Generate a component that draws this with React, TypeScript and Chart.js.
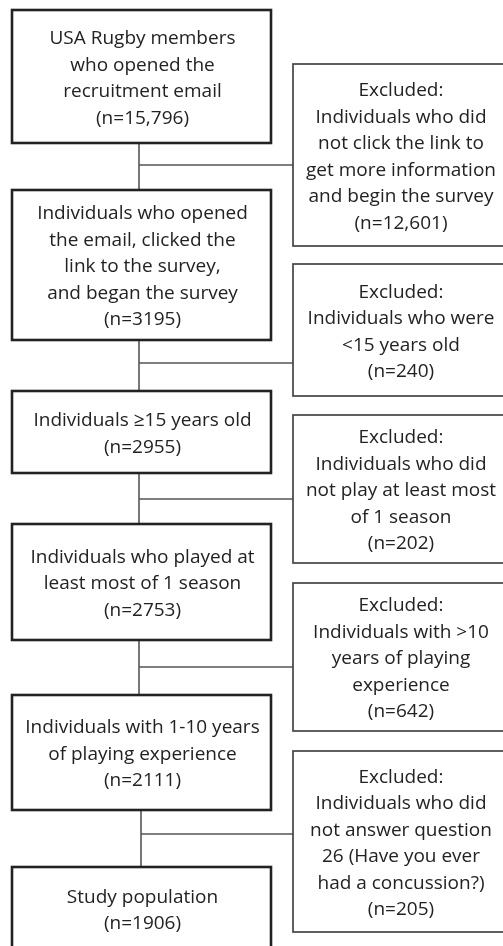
import React, { useEffect, useRef } from "react";
import { Chart, registerables } from "chart.js";

Chart.register(...registerables);

// ---- data ----
const stageLabels: string[][] = [
  ["USA Rugby members", "who opened the", "recruitment email"],
  ["Individuals who opened", "the email, clicked the", "link to the survey,", "and began the survey"],
  ["Individuals \u226515 years old"],
  ["Individuals who played at", "least most of 1 season"],
  ["Individuals with 1-10 years", "of playing experience"],
  ["Study population"],
];
const stageCounts: string[] = ["15,796", "3195", "2955", "2753", "2111", "1906"];

const excludedLabels: string[][] = [
  ["Individuals who did", "not click the link to", "get more information", "and begin the survey"],
  ["Individuals who were", "<15 years old"],
  ["Individuals who did", "not play at least most", "of 1 season"],
  ["Individuals with >10", "years of playing", "experience"],
  ["Individuals who did", "not answer question", "26 (Have you ever", "had a concussion?)"],
];
const excludedCounts: string[] = ["12,601", "240", "202", "642", "205"];

// ---- layout (in scale units) ----
const mainX = [12, 271];
const mainY: number[][] = [
  [10, 143], [190, 340], [391, 473], [524, 640], [695, 810], [867, 950],
];
const exclX = [293, 506];
const exclY: number[][] = [
  [64, 246], [264, 396], [415, 563], [583, 731], [751, 932],
];
const connY = [165, 363, 499, 667, 834];
const connX = [139, 139, 139, 139, 141];

const FONT_FAMILY = "'Open Sans', sans-serif";
const FONT_SIZE = 19;
const LINE_H = 26.5;
const TEXT_SHIFT = 2;

const flowPlugin = {
  id: "flow",
  afterDraw(chart: any) {
    const ctx = chart.ctx as CanvasRenderingContext2D;
    const xs = chart.scales.x;
    const ys = chart.scales.y;
    const px = (v: number) => xs.getPixelForValue(v);
    const py = (v: number) => ys.getPixelForValue(v);
    ctx.save();

    const drawBox = (x0: number, x1: number, y0: number, y1: number, lw: number, color: string) => {
      ctx.lineWidth = lw;
      ctx.strokeStyle = color;
      ctx.strokeRect(px(x0), py(y0), px(x1) - px(x0), py(y1) - py(y0));
    };
    const drawText = (lines: string[], cx: number, y0: number, y1: number) => {
      ctx.fillStyle = "#222222";
      ctx.font = `${FONT_SIZE}px ${FONT_FAMILY}`;
      ctx.textAlign = "center";
      ctx.textBaseline = "middle";
      const mid = (py(y0) + py(y1)) / 2 + TEXT_SHIFT;
      const start = mid - ((lines.length - 1) * LINE_H) / 2;
      lines.forEach((l, i) => ctx.fillText(l, px(cx), start + i * LINE_H));
    };

    // connectors
    ctx.lineWidth = 1.6;
    ctx.strokeStyle = "#555555";
    for (let i = 0; i < connY.length; i++) {
      ctx.beginPath();
      ctx.moveTo(px(connX[i]), py(mainY[i][1]));
      ctx.lineTo(px(connX[i]), py(mainY[i + 1][0]));
      ctx.moveTo(px(connX[i]), py(connY[i]));
      ctx.lineTo(px(exclX[0]), py(connY[i]));
      ctx.stroke();
    }

    // main boxes
    stageLabels.forEach((lab, i) => {
      drawBox(mainX[0], mainX[1], mainY[i][0], mainY[i][1], 2.6, "#222222");
      drawText([...lab, `(n=${stageCounts[i]})`], (mainX[0] + mainX[1]) / 2 + 1, mainY[i][0], mainY[i][1]);
    });

    // exclusion boxes
    excludedLabels.forEach((lab, i) => {
      drawBox(exclX[0], exclX[1], exclY[i][0], exclY[i][1], 1.7, "#444444");
      drawText(["Excluded:", ...lab, `(n=${excludedCounts[i]})`], 401, exclY[i][0], exclY[i][1]);
    });

    ctx.restore();
  },
};

export default function App() {
  const ref = useRef<HTMLCanvasElement | null>(null);
  useEffect(() => {
    document.body.style.margin = "0";
    const canvas = ref.current!;
    const chart = new Chart(canvas, {
      type: "scatter",
      data: {
        datasets: [
          {
            data: stageCounts.map((_, i) => ({ x: (mainX[0] + mainX[1]) / 2, y: (mainY[i][0] + mainY[i][1]) / 2 })),
            pointRadius: 0,
          },
        ],
      },
      options: {
        animation: false,
        responsive: false,
        events: [],
        layout: { padding: 0 },
        plugins: { legend: { display: false }, tooltip: { enabled: false } },
        scales: {
          x: { type: "linear", min: 0, max: 503, display: false },
          y: { type: "linear", min: 0, max: 946, reverse: true, display: false },
        },
      },
      plugins: [flowPlugin],
    });
    return () => chart.destroy();
  }, []);
  return (
    <div style={{ width: 503, height: 946, background: "#fff" }}>
      <canvas ref={ref} width={503} height={946} style={{ display: "block" }} />
    </div>
  );
}
